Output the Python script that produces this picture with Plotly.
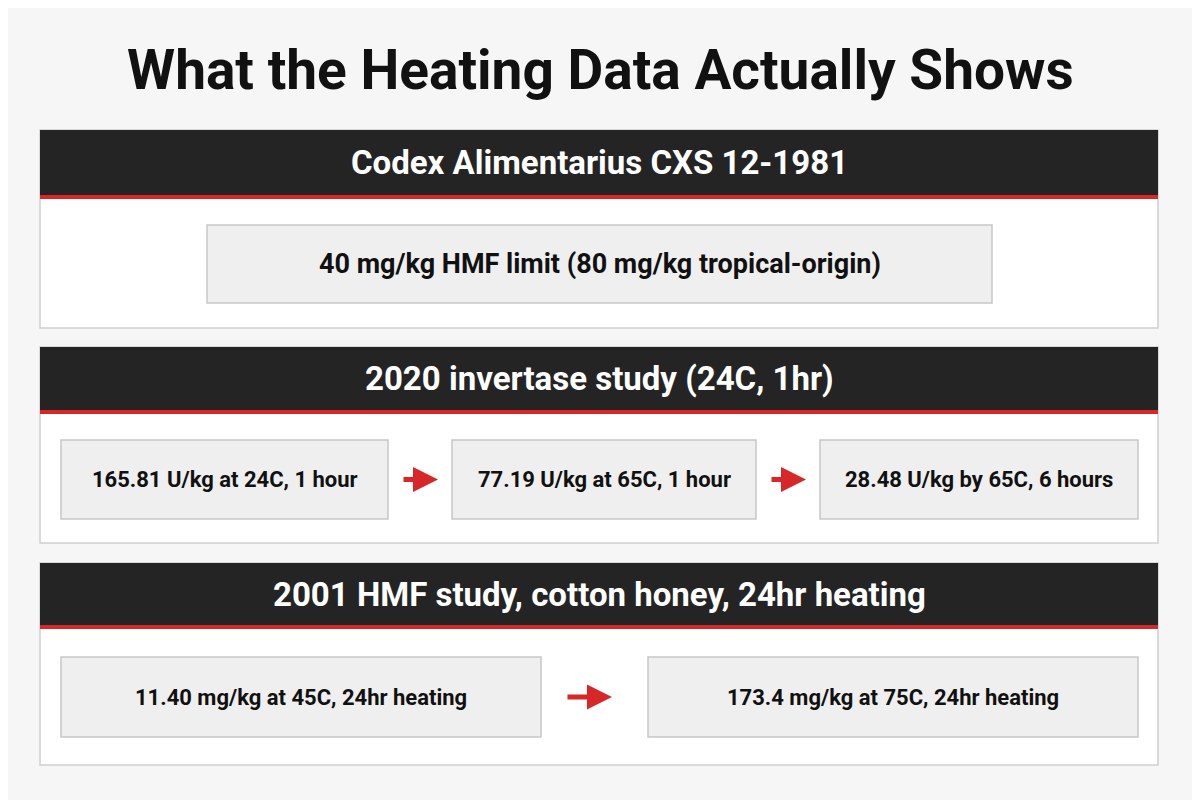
import plotly.graph_objects as go

title = "What the Heating Data Actually Shows"
panel_titles = ["Codex Alimentarius CXS 12-1981",
                "2020 invertase study (24C, 1hr)",
                "2001 HMF study, cotton honey, 24hr heating"]
panel_items = [["40 mg/kg HMF limit (80 mg/kg tropical-origin)"],
               ["165.81 U/kg at 24C, 1 hour", "77.19 U/kg at 65C, 1 hour", "28.48 U/kg by 65C, 6 hours"],
               ["11.40 mg/kg at 45C, 24hr heating", "173.4 mg/kg at 75C, 24hr heating"]]

# layout (pixels): panel top, header bottom, panel bottom, box rows
panels = [(130, 199, 328), (347, 414, 543), (563, 629, 765)]
box_rows = [[(207, 992)], [(61, 388), (452, 756), (820, 1138)], [(61, 541), (648, 1138)]]
box_y = [(225, 303), (440, 519), (657, 737)]
arrows = [[], [(402, 438), (770, 806)], [(566, 612)]]

fig = go.Figure()
shapes, annos = [], []
FONT = "Roboto"
for i, (top, hb, bot) in enumerate(panels):
    shapes.append(dict(type="rect", x0=40, x1=1158, y0=top, y1=bot, fillcolor="white",
                       line=dict(color="#d0d0d0", width=1.5), layer="below"))
    shapes.append(dict(type="rect", x0=40, x1=1158, y0=top, y1=hb - 4, fillcolor="#242424",
                       line=dict(width=0), layer="below"))
    shapes.append(dict(type="rect", x0=40, x1=1158, y0=hb - 4, y1=hb, fillcolor="#d62828",
                       line=dict(width=0), layer="below"))
    annos.append(dict(x=599, y=(top + hb - 4) / 2, text="<b>%s</b>" % panel_titles[i], showarrow=False,
                      font=dict(family=FONT, size=33, color="white")))
    y0, y1 = box_y[i]
    for (x0, x1), txt in zip(box_rows[i], panel_items[i]):
        shapes.append(dict(type="rect", x0=x0, x1=x1, y0=y0, y1=y1, fillcolor="#efefef",
                           line=dict(color="#c8c8c8", width=1.5), layer="below"))
        annos.append(dict(x=(x0 + x1) / 2, y=(y0 + y1) / 2, text="<b>%s</b>" % txt, showarrow=False,
                          font=dict(family=FONT, size=27 if i == 0 else 22, color="#111")))
    for ax0, ax1 in arrows[i]:
        annos.append(dict(x=ax1, y=(y0 + y1) / 2, ax=ax0, ay=(y0 + y1) / 2, axref="x", ayref="y",
                          xref="x", yref="y", text="", showarrow=True, arrowhead=2,
                          arrowsize=1, arrowwidth=5, arrowcolor="#d62828"))

annos.append(dict(x=600, y=70, text="<b>%s</b>" % title, showarrow=False,
                  font=dict(family=FONT, size=55, color="#111")))

# page body adds an 8px offset, so shift the axis ranges to compensate
fig.update_layout(width=1200, height=800, margin=dict(l=0, r=0, t=0, b=0),
                  paper_bgcolor="#f6f6f6", plot_bgcolor="#f6f6f6",
                  shapes=shapes, annotations=annos, showlegend=False,
                  xaxis=dict(range=[8, 1208], visible=False, fixedrange=True),
                  yaxis=dict(range=[808, 8], visible=False, fixedrange=True))
fig.write_html("out.html")
